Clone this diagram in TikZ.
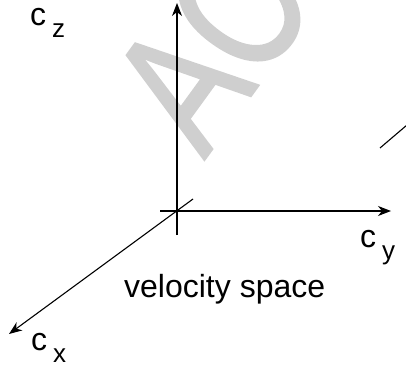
\documentclass[tikz,border=0pt]{standalone}
\usepackage{fontspec}
\setsansfont{Liberation Sans}
\newfontfamily\wmfont[FakeBold=1.5]{Liberation Sans}
\usepackage{tikz}
\usetikzlibrary{arrows.meta}
% c with a lowered index, as on the axis labels
\newcommand{\vcomp}[1]{c\hspace{6pt}\raisebox{-12pt}{\fontsize{26}{26}\selectfont #1}}

\begin{document}
\begin{tikzpicture}[
  x=1pt, y=-1pt,
  axis/.style ={line width=1.1pt, -{Stealth[length=13pt, width=10pt, inset=4pt]}},
  plain/.style={line width=1.1pt},
  lbl/.style  ={anchor=base west, inner sep=0pt, font=\sffamily\fontsize{32}{32}\selectfont},
  wmark/.style={anchor=base west, inner sep=0pt, text=gray!38,
                font=\wmfont\fontsize{180}{180}\selectfont}
]
\clip (0,0) rectangle (406,371);

% watermark
\node[wmark, rotate=54, xscale=0.77] (wm) at (204,160) {AC};

\coordinate (o)     at (177,211);
\coordinate (zTip)  at (177,3);
\coordinate (zFoot) at (177,235);
\coordinate (yTip)  at (391,211);
\coordinate (yFoot) at (160,211);
\coordinate (xTip)  at (9,334);
\coordinate (xFoot) at (193,199);
\coordinate (sA)    at (380,148);
\coordinate (sB)    at (407,125);

\draw[axis]  (zFoot) -- (zTip);
\draw[axis]  (yFoot) -- (yTip);
\draw[axis]  (xFoot) -- (xTip);
\draw[plain] (sA) -- (sB);

\node[lbl] (cz)  at (30,26)   {\vcomp{z}};
\node[lbl] (cy)  at (360,247) {\vcomp{y}};
\node[lbl] (cx)  at (31,350)  {\vcomp{x}};
\node[lbl] (vel) at (124,297) {velocity space};
\end{tikzpicture}
\end{document}
